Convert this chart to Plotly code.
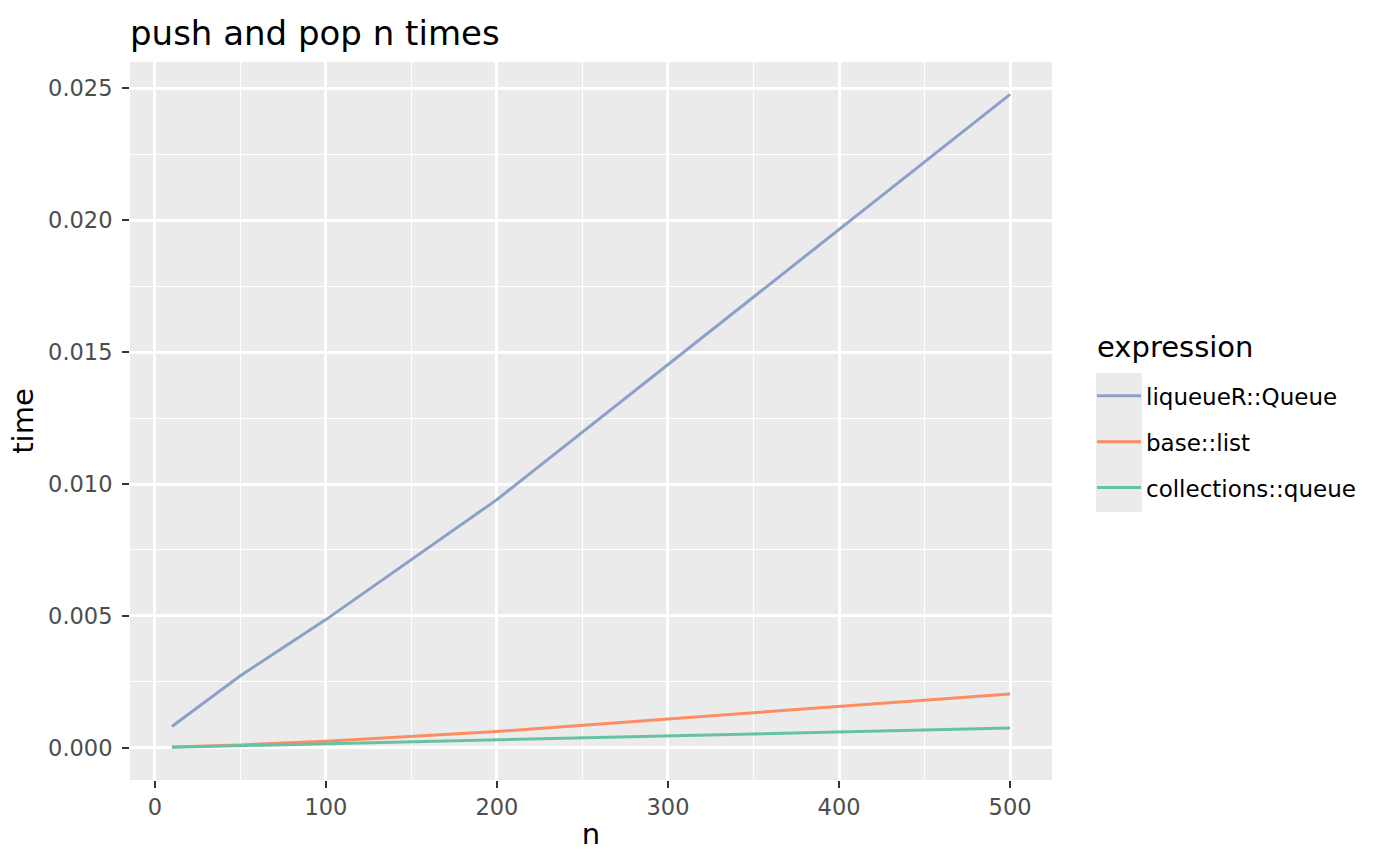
import plotly.graph_objects as go

# benchmark sizes and median times (seconds)
n = [10, 50, 100, 200, 500]
liqueue_time = [0.00081, 0.00273, 0.00486, 0.00941, 0.02477]
list_time = [0.00003, 0.00011, 0.00025, 0.00062, 0.00204]
queue_time = [0.00002, 0.00008, 0.00014, 0.00030, 0.00075]

series_names = ["liqueueR::Queue", "base::list", "collections::queue"]
series_colors = ["#8DA0CB", "#FC8D62", "#66C2A5"]
series_values = [liqueue_time, list_time, queue_time]

font = "DejaVu Sans"

fig = go.Figure()
for name, color, vals in zip(series_names, series_colors, series_values):
    fig.add_trace(go.Scatter(x=n, y=vals, mode="lines", name=name,
                             legendgroup=name,
                             line=dict(color=color, width=3)))

axis_common = dict(
    showgrid=True, gridcolor="white", gridwidth=2.6,
    zeroline=False, showline=False,
    ticks="outside", ticklen=7, tickwidth=2.4, tickcolor="#333333",
    tickfont=dict(family=font, size=22.5, color="#4D4D4D"),
)

fig.update_xaxes(**axis_common, range=[-14.5, 524.5], tickmode="linear", tick0=0, dtick=100,
                 minor=dict(dtick=50, showgrid=True, gridcolor="white", gridwidth=1.4),
                 title=dict(text="n", font=dict(family=font, size=29, color="black"), standoff=4))
fig.update_yaxes(**axis_common, range=[-0.00122, 0.02600], tickmode="linear", tick0=0, dtick=0.005,
                 tickformat=".3f", ticklabelstandoff=5,
                 minor=dict(dtick=0.0025, showgrid=True, gridcolor="white", gridwidth=1.4),
                 title=dict(text="time", font=dict(family=font, size=29, color="black"), standoff=5))

# grey background behind the legend keys, like ggplot
fig.add_shape(type="rect", xref="paper", yref="paper", x0=1.0477, x1=1.0976, y0=0.3733, y1=0.5669,
              fillcolor="#EBEBEB", line=dict(width=0), layer="below")

# legend title as separate text so the gap to the keys matches
fig.add_annotation(text="expression", xref="paper", yref="paper", x=1.0467, y=0.603,
                   xanchor="left", yanchor="middle", showarrow=False,
                   font=dict(family=font, size=29, color="black"))

fig.update_layout(
    width=1400, height=865,
    margin=dict(l=130, r=348, t=62, b=85),
    plot_bgcolor="#EBEBEB", paper_bgcolor="white",
    font=dict(family=font, color="black"),
    title=dict(text="push and pop n times", x=0, xref="paper", xanchor="left",
               y=1 - 33 / 865, yref="container", yanchor="middle",
               font=dict(family=font, size=34, color="black")),
    legend=dict(font=dict(family=font, size=23, color="black"),
                x=1.0434, xanchor="left", y=0.565, yanchor="top",
                traceorder="grouped", tracegroupgap=13,
                itemwidth=44, bgcolor="rgba(0,0,0,0)"),
)

fig.write_html("out.html", config={"displayModeBar": False},
               post_script="document.body.style.margin='0';")
